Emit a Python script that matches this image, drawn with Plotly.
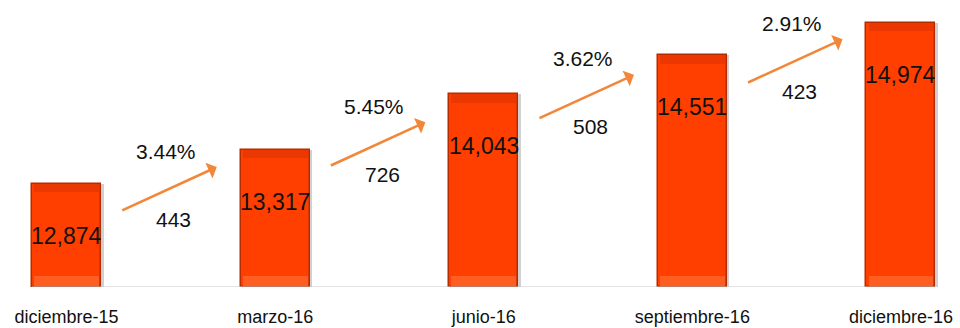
import plotly.graph_objects as go

categories = ["diciembre-15", "marzo-16", "junio-16", "septiembre-16", "diciembre-16"]
values = [12874, 13317, 14043, 14551, 14974]

y_min, y_max = 11531, 15273
bar_w = 0.331
xs = list(range(len(categories)))
base = [y_min] * len(values)
heights = [v - y_min for v in values]

fig = go.Figure()

# soft shadow
fig.add_trace(go.Bar(x=xs, y=heights, base=base, width=bar_w, offset=-bar_w / 2 + 0.012,
                     marker=dict(color="rgba(120,120,120,0.35)", line=dict(width=0)),
                     hoverinfo="skip", showlegend=False))
# main bar
fig.add_trace(go.Bar(x=xs, y=heights, base=base, width=bar_w,
                     marker=dict(color="#FF3F00", line=dict(color="#B52C00", width=1.5)),
                     hoverinfo="skip", showlegend=False))
# top bevel (darker band)
band = 110
fig.add_trace(go.Bar(x=xs, y=[band] * len(values), base=[v - band for v in values], width=bar_w * 0.94,
                     marker=dict(color="#EA3800", line=dict(width=0)),
                     hoverinfo="skip", showlegend=False))
# bottom bevel (lighter band)
fig.add_trace(go.Bar(x=xs, y=[band * 1.2] * len(values), base=[y_min + 15] * len(values), width=bar_w * 0.94,
                     marker=dict(color="#FF5E22", line=dict(width=0)),
                     hoverinfo="skip", showlegend=False))

annotations = []
for i, v in enumerate(values):
    annotations.append(dict(x=i, y=v, xref="x", yref="y", text=f"{v:,}", showarrow=False,
                            yshift=-52, font=dict(family="Liberation Sans, Arial",
                                                  size=23, color="#111111")))

for i in range(len(values) - 1):
    diff = values[i + 1] - values[i]
    pct = diff / values[i] * 100
    ymid = (values[i] + values[i + 1]) / 2
    annotations.append(dict(x=i + 0.72, y=ymid, xref="x", yref="y", ax=-96, ay=44,
                            axref="pixel", ayref="pixel", text="", showarrow=True,
                            arrowhead=1, arrowsize=1.1, arrowwidth=2.6, arrowcolor="#F2873A"))
    annotations.append(dict(x=i + 0.49, y=ymid, xref="x", yref="y", text=f"{pct:.2f}%", showarrow=False,
                            xshift=-3, yshift=16,
                            font=dict(family="Liberation Sans, Arial", size=21, color="#111111")))
    annotations.append(dict(x=i + 0.49, y=ymid, xref="x", yref="y", text=f"{diff}", showarrow=False,
                            xshift=5, yshift=-52,
                            font=dict(family="Liberation Sans, Arial", size=21, color="#111111")))

fig.add_shape(type="line", xref="x", yref="y", x0=-bar_w / 2, x1=len(values) - 1 + bar_w / 2,
              y0=y_min, y1=y_min, line=dict(color="#C8C8C8", width=1.2))

fig.update_layout(
    width=960, height=328,
    margin=dict(l=0, r=0, t=0, b=41),
    paper_bgcolor="white", plot_bgcolor="white",
    barmode="overlay", bargap=0,
    annotations=annotations,
    xaxis=dict(range=[-0.319, 4.283], tickmode="array", tickvals=xs, ticktext=categories,
               showgrid=False, zeroline=False, showline=False, ticks="",
               ticklabelstandoff=17,
               tickfont=dict(family="Liberation Sans, Arial", size=18, color="#111111")),
    yaxis=dict(range=[y_min, y_max], visible=False, showgrid=False, zeroline=False),
)

fig.write_html("out.html")
